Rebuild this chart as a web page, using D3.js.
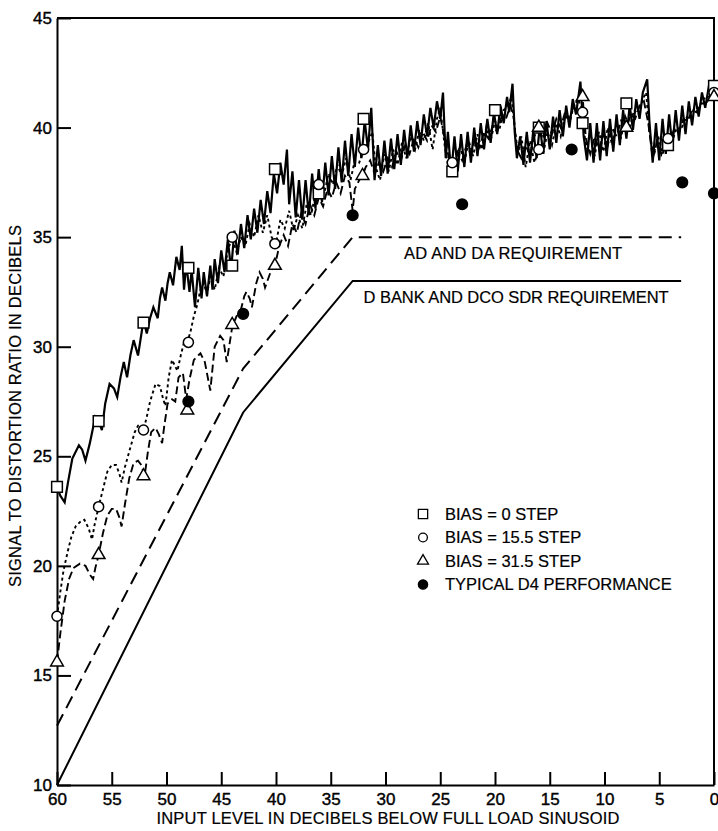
<!DOCTYPE html>
<html>
<head>
<meta charset="utf-8">
<script src="https://cdnjs.cloudflare.com/ajax/libs/d3/7.8.5/d3.min.js"></script>
<style>
  body { margin: 0; background: #fff; }
  svg { font-family: "Liberation Sans", Arial, sans-serif; }
  .axis path, .axis line { stroke: #000; stroke-width: 2; }
  .axis text { font-size: 17px; fill: #000; stroke: #000; stroke-width: 0.4; }
  .label { font-size: 16.5px; fill: #000; stroke: #000; stroke-width: 0.2; }
</style>
</head>
<body>
<svg id="svg1" width="718" height="831"></svg>
<script>
var svg = d3.select('#svg1');

// axis ticks
var xTicks = [60, 55, 50, 45, 40, 35, 30, 25, 20, 15, 10, 5, 0];
var yTicks = [10, 15, 20, 25, 30, 35, 40, 45];

// requirement lines [input level, SDR]
var adDaReq = [[60, 12.7], [43, 29.0], [33, 35.0], [3, 35.0]];
var dBankReq = [[60, 10.0], [43, 27.0], [33, 33.0], [3, 33.0]];

var bias0Curve = [
  [60,23.6],[59.7,23.2],[59.3,22.9],[59.0,23.8],[58.6,24.9],[58.0,25.5],[57.7,25.3],[57.4,24.8],[57.0,25.6],[56.5,26.8],
  [56.2,26.6],[55.9,26.2],[55.6,27.4],[55.2,28.3],[54.8,28.1],[54.5,27.7],[54.2,28.6],[53.9,29.3],[53.6,28.6],[53.3,29.6],
  [53.0,30.3],[52.6,29.6],[52.1,31.2],[51.8,30.6],[51.5,31.3],[51.2,31.8],[50.8,31.3],[50.6,32.2],[50.4,32.7],[50.1,32.1],
  [49.9,32.9],[49.7,33.4],[49.4,32.8],[49.1,34.1],[48.8,33.5],[48.6,34.6],
  [48.4,32.6],[48.2,33.8],[47.9,32.5],[47.7,33.5],[47.4,31.8],[47.1,33.6],[46.8,32.2],[46.6,33.4],[46.3,32.3],[46.0,33.7],
  [45.8,32.6],[45.6,34.0],[45.3,32.9],[45.0,34.4],[44.7,33.4],[44.4,34.9],[44.1,33.5],[43.8,35.3],[43.5,34.2],[43.2,35.6],
  [42.9,34.5],[42.6,36.0],[42.3,34.9],[42.0,36.3],[41.7,35.2],[41.4,36.7],[41.1,35.6],[40.8,37.1],[40.5,36.1],[40.2,37.9],
  [39.9,37.0],[39.6,38.4],[39.3,37.4],[39.0,39.0],[38.8,36.5],[38.5,38.0],[38.2,35.9],[37.9,37.6],[37.6,35.8],[37.3,37.6],
  [37.0,36.0],[36.7,37.9],[36.4,36.3],[36.1,38.1],[35.8,36.6],[35.5,38.4],[35.2,36.9],[34.9,38.7],[34.6,37.2],[34.3,39.1],
  [34.0,37.5],[33.7,39.4],[33.4,37.8],[33.1,39.7],[32.8,38.2],[32.5,40.0],[32.2,38.6],[31.9,40.3],[31.6,39.0],[31.3,40.9],
  [31.0,37.6],[30.7,39.2],[30.4,37.8],[30.1,39.4],[29.8,37.9],[29.5,39.5],[29.2,38.1],[28.9,39.7],[28.6,38.3],[28.3,39.9],
  [28.0,38.6],[27.7,40.1],[27.4,38.9],[27.1,40.3],[26.8,39.2],[26.5,40.6],[26.2,39.6],[25.9,40.9],[25.6,40.0],[25.3,41.2],
  [25.0,40.4],[24.75,41.6],
  [24.5,38.6],[24.3,39.8],[24.0,37.9],[23.7,39.6],[23.4,38.0],[23.1,39.7],[22.8,38.2],[22.5,39.8],[22.2,38.4],[21.9,40.0],
  [21.6,38.7],[21.3,40.2],[21.0,39.0],[20.7,40.4],[20.4,39.3],[20.1,40.7],[19.8,39.7],[19.5,41.0],[19.2,40.2],[18.9,41.4],
  [18.7,40.7],[18.4,42.0],
  [18.2,39.8],[18.0,38.6],[17.7,39.6],[17.4,38.3],[17.1,39.8],[16.8,38.4],[16.5,39.9],[16.2,38.6],[15.9,40.1],[15.6,38.8],
  [15.3,40.3],[15.0,39.0],[14.7,40.5],[14.4,39.3],[14.1,40.8],[13.8,39.6],[13.5,41.0],[13.2,40.0],[12.9,41.3],[12.6,40.6],
  [12.2,42.1],
  [11.9,39.6],[11.6,38.5],[11.3,40.2],[11.0,38.4],[10.7,40.2],[10.4,38.5],[10.1,40.3],[9.8,38.7],[9.5,40.4],[9.2,38.9],
  [8.9,40.6],[8.6,39.2],[8.3,40.8],[8.0,39.5],[7.7,41.0],[7.4,39.9],[7.1,41.3],[6.8,40.4],[6.5,41.6],[6.1,42.2],
  [5.9,40.3],[5.6,38.4],[5.3,40.2],[5.0,38.5],[4.7,40.4],[4.4,38.8],[4.1,40.6],[3.8,39.1],[3.5,40.8],[3.2,39.4],
  [2.9,41.0],[2.6,39.7],[2.3,41.2],[2.0,40.1],[1.7,41.4],[1.4,40.5],[1.1,41.6],[0.8,40.9],[0.5,41.8],[0.2,41.4],[0,42.0]
];

var bias15Curve = [
  [60,17.7],[59.7,18.8],[59.4,19.8],[59.0,20.7],[58.7,21.3],[58.3,21.8],[57.9,22.0],[57.5,22.1],[57.1,21.7],[56.8,21.2],
  [56.6,21.8],[56.2,22.7],[55.8,23.5],[55.4,24.3],[55.0,24.6],[54.6,24.6],[54.3,24.2],[54.1,23.8],[53.8,24.5],[53.3,25.4],
  [52.9,26.1],[52.6,26.4],[52.3,26.4],[52.1,26.2],[51.8,26.8],[51.5,27.5],[51.0,28.3],[50.6,28.2],[50.3,27.6],[50.1,27.3],
  [49.8,28.6],[49.5,29.4],[49.2,29.1],[49.0,28.9],[48.7,29.6],[48.4,30.2],[48.1,30.2],[47.8,30.7],[47.5,31.4],[47.2,31.9],
  [46.9,32.6],[46.6,32.9],[46.3,32.4],[46.0,33.2],[45.6,32.6],[45.2,33.6],[44.8,33.2],[44.4,34.4],[44.0,35.0],[43.6,34.3],
  [43.2,35.0],[42.8,34.6],[42.4,35.6],[42.0,35.0],[41.6,36.0],[41.2,35.2],[40.8,36.0],[40.4,35.0],[40.0,34.7],[39.6,35.8],
  [39.2,35.4],[38.8,36.2],[38.4,35.3],[38.0,36.0],[37.6,35.4],[37.2,36.5],[36.8,36.0],[36.4,37.0],[36.0,37.4],[35.6,37.0],
  [35.2,37.9],[34.8,37.4],[34.4,38.3],[34.0,37.8],[33.6,38.6],[33.2,37.6],[32.8,38.5],[32.4,38.4],[32.0,39.0],[31.6,39.3],
  [31.2,39.8],[30.9,38.2],[30.5,37.6],[30.1,38.8],[29.7,38.0],[29.3,39.0],[28.9,38.3],[28.5,39.3],[28.1,38.6],[27.7,39.6],
  [27.3,39.0],[26.9,39.9],[26.5,39.4],[26.1,40.2],[25.7,39.0],[25.3,40.4],[25.0,40.9],[24.6,39.2],[24.2,38.0],[24.0,38.4],
  [23.6,38.2],[23.2,39.2],[22.8,38.4],[22.4,39.4],[22.0,38.7],[21.6,39.7],[21.2,39.0],[20.8,40.0],[20.4,39.4],[20.0,40.3],
  [19.6,39.9],[19.2,40.8],[18.8,41.0],[18.5,41.4],[18.2,40.0],[17.9,38.8],[17.6,39.6],[17.2,38.2],[16.8,39.4],[16.4,38.4],
  [16.0,39.0],[15.6,38.8],[15.2,39.8],[14.8,39.2],[14.4,40.2],[14.0,39.6],[13.6,40.6],[13.2,40.2],[12.8,41.0],[12.4,41.3],
  [12.0,40.7],[11.7,39.0],[11.3,39.8],[10.9,38.7],[10.5,39.8],[10.1,38.9],[9.7,40.0],[9.3,39.2],[8.9,40.2],[8.5,39.5],
  [8.1,40.5],[7.7,40.0],[7.3,40.8],[6.9,40.6],[6.5,41.3],[6.2,41.6],[5.9,39.8],[5.5,38.7],[5.1,39.6],[4.7,38.8],
  [4.2,39.5],[3.8,39.4],[3.4,40.0],[3.0,39.9],[2.6,40.5],[2.2,40.4],[1.8,40.9],[1.4,40.9],[1.0,41.3],[0.5,41.4],[0,41.6]
];

var bias31Curve = [
  [60,15.6],[59.7,16.9],[59.3,18.4],[58.9,19.4],[58.5,19.9],[57.9,20.1],[57.4,20.0],[57.0,19.6],[56.7,19.4],[56.5,19.9],
  [56.2,20.5],[55.8,21.5],[55.4,22.3],[55.0,22.6],[54.6,22.6],[54.3,22.2],[54.1,21.8],[53.8,22.8],[53.4,24.0],[53.0,24.7],
  [52.6,24.8],[52.3,24.6],[52.0,24.1],[51.7,25.2],[51.4,26.1],[51.0,26.3],[50.7,26.0],[50.4,25.6],[50.2,26.4],[49.9,27.4],
  [49.5,27.6],[49.2,27.5],[48.9,28.6],[48.5,28.8],[48.2,27.6],[47.9,28.5],[47.5,29.4],[46.9,29.7],[46.5,29.3],[46.0,28.0],
  [45.6,30.0],[45.1,30.5],[44.8,30.3],[44.5,29.3],[44.0,30.9],[43.6,31.4],[43.3,31.5],[42.9,32.3],[42.7,32.5],[42.4,32.2],
  [42.2,31.8],[41.8,32.9],[41.5,33.4],[41.2,33.1],[41.0,32.7],[40.5,33.4],[40.1,33.7],[39.7,34.6],[39.3,35.1],[38.9,34.6],
  [38.5,35.6],[38.1,35.2],[37.7,36.1],[37.3,35.6],[36.9,36.5],[36.5,36.0],[36.1,36.8],[35.7,36.4],[35.3,37.2],[34.9,36.8],
  [34.5,37.5],[34.1,37.0],[33.7,37.8],[33.3,37.5],[33.0,36.2],[32.8,37.2],[32.4,37.6],[32.1,37.8],[31.8,38.2],[31.4,38.5],
  [31.0,37.9],[30.6,38.4],[30.2,38.0],[29.8,38.6],[29.4,38.2],[29.0,38.9],[28.6,38.5],[28.2,39.2],[27.8,38.8],[27.4,39.5],
  [27.0,39.1],[26.6,39.8],[26.2,39.4],[25.8,40.1],[25.4,39.8],[25.0,40.5],[24.6,39.5],[24.2,38.6],[23.8,38.3],[23.4,38.9],
  [23.0,38.5],[22.6,39.2],[22.2,38.8],[21.8,39.5],[21.4,39.1],[21.0,39.8],[20.6,39.5],[20.2,40.1],[19.8,39.8],[19.4,40.5],
  [19.0,40.4],[18.6,41.0],[18.3,40.5],[18.0,39.0],[17.6,38.6],[17.2,39.2],[16.8,38.7],[16.4,39.6],[16.0,40.0],[15.6,39.6],
  [15.2,40.2],[14.8,39.7],[14.4,40.4],[14.0,40.0],[13.6,40.7],[13.2,40.4],[12.8,41.0],[12.4,41.2],[12.0,41.4],[11.7,39.5],
  [11.3,38.8],[10.9,39.6],[10.5,39.0],[10.1,39.7],[9.7,39.2],[9.3,40.0],[8.9,39.6],[8.5,40.3],[8.0,40.0],[7.6,40.6],
  [7.2,40.4],[6.8,41.0],[6.4,41.2],[6.0,40.2],[5.6,38.6],[5.2,39.4],[4.8,38.8],[4.4,39.6],[4.0,39.4],[3.6,40.0],
  [3.2,39.8],[2.8,40.4],[2.4,40.3],[2.0,40.8],[1.6,40.7],[1.2,41.1],[0.8,41.1],[0.4,41.3],[0,41.4]
];

// measured points
var bias0Points = [[60,23.6],[56.2,26.6],[52.1,31.1],[48.0,33.6],[44.0,33.7],[40.1,38.1],[36.1,37.0],[32.0,40.4],
  [23.9,38.0],[20.0,40.8],[16.0,40.0],[12.0,40.2],[8.0,41.1],[4.2,39.2],[0,41.9]];
var bias15Points = [[60,17.7],[56.2,22.7],[52.1,26.2],[48.0,30.2],[44.0,35.0],[40.1,34.7],[36.1,37.4],[32.0,39.0],
  [23.9,38.4],[16.0,39.0],[12.0,40.7],[4.2,39.5],[0,41.6]];
var bias31Points = [[60,15.6],[56.2,20.5],[52.1,24.1],[48.1,27.1],[44.0,31.0],[40.1,33.7],[32.1,37.8],
  [16.0,40.0],[12.0,41.4],[8.0,40.0],[0,41.4]];
var d4Points = [[48.0,27.5],[43.0,31.5],[33.0,36.0],[23.0,36.5],[13.0,39.0],[2.9,37.5],[0,37.0]];

var legendLabels = ['BIAS = 0 STEP', 'BIAS = 15.5 STEP', 'BIAS = 31.5 STEP', 'TYPICAL D4 PERFORMANCE'];

var padding = {t: 18, r: 4, b: 46, l: 57};
var svgWidth = +svg.attr('width');
var svgHeight = +svg.attr('height');

var xScale = d3.scaleLinear().domain([60, 0]).range([padding.l, svgWidth - padding.r]);
var yScale = d3.scaleLinear().domain([10, 45]).range([svgHeight - padding.b, padding.t]);

var line = d3.line()
    .x(function(d) { return xScale(d[0]); })
    .y(function(d) { return yScale(d[1]); });

// frame (top and right)
svg.append('path')
    .attr('d', 'M' + [xScale(60), yScale(45)] + 'H' + xScale(0) + 'V' + yScale(10))
    .attr('fill', 'none')
    .attr('stroke', '#000')
    .attr('stroke-width', 2);

var xAxis = d3.axisBottom(xScale).tickValues(xTicks).tickSizeInner(-13).tickSizeOuter(0).tickPadding(5);
var yAxis = d3.axisLeft(yScale).tickValues(yTicks).tickSizeInner(-14).tickSizeOuter(0).tickPadding(5);

svg.append('g')
    .attr('class', 'axis')
    .attr('transform', 'translate(' + [0, yScale(10)] + ')')
    .call(xAxis)
    .selectAll('text').attr('dy', '0.9em');

svg.append('g')
    .attr('class', 'axis')
    .attr('transform', 'translate(' + [xScale(60), 0] + ')')
    .call(yAxis);

// axis titles
svg.append('text')
    .attr('class', 'label')
    .attr('x', 388)
    .attr('y', 824)
    .attr('text-anchor', 'middle')
    .attr('textLength', 463)
    .text('INPUT LEVEL IN DECIBELS BELOW FULL LOAD SINUSOID');

svg.append('text')
    .attr('class', 'label')
    .attr('transform', 'translate(' + [21, 406] + ') rotate(-90)')
    .attr('text-anchor', 'middle')
    .attr('textLength', 362)
    .text('SIGNAL TO DISTORTION RATIO IN DECIBELS');

// requirement lines
svg.append('path')
    .datum(adDaReq)
    .attr('d', line)
    .attr('fill', 'none')
    .attr('stroke', '#000')
    .attr('stroke-width', 2)
    .attr('stroke-dasharray', '13,7');

svg.append('path')
    .datum(dBankReq)
    .attr('d', line)
    .attr('fill', 'none')
    .attr('stroke', '#000')
    .attr('stroke-width', 2);

svg.append('text')
    .attr('class', 'label')
    .attr('x', xScale(28.3))
    .attr('y', yScale(34.0))
    .attr('textLength', 218)
    .text('AD AND DA REQUIREMENT');

svg.append('text')
    .attr('class', 'label')
    .attr('x', xScale(32))
    .attr('y', yScale(32.0))
    .attr('textLength', 305)
    .text('D BANK AND DCO SDR REQUIREMENT');

// measured curves
svg.append('path')
    .datum(bias31Curve)
    .attr('d', line)
    .attr('fill', 'none')
    .attr('stroke', '#000')
    .attr('stroke-width', 1.9)
    .attr('stroke-dasharray', '8,4');

svg.append('path')
    .datum(bias15Curve)
    .attr('d', line)
    .attr('fill', 'none')
    .attr('stroke', '#000')
    .attr('stroke-width', 1.9)
    .attr('stroke-dasharray', '3,3');

svg.append('path')
    .datum(bias0Curve)
    .attr('d', line)
    .attr('fill', 'none')
    .attr('stroke', '#000')
    .attr('stroke-width', 2.2)
    .attr('stroke-linejoin', 'miter');

// markers
var series = [
    {pts: bias0Points, sym: d3.symbolSquare, size: 115, fill: '#fff'},
    {pts: bias15Points, sym: d3.symbolCircle, size: 80, fill: '#fff'},
    {pts: bias31Points, sym: d3.symbolTriangle, size: 70, fill: '#fff'},
    {pts: d4Points, sym: d3.symbolCircle, size: 90, fill: '#000'}
];

series.forEach(function(s) {
    svg.append('g').selectAll('.marker')
        .data(s.pts)
        .enter()
        .append('path')
        .attr('class', 'marker')
        .attr('d', d3.symbol().type(s.sym).size(s.size))
        .attr('transform', function(d) {
            return 'translate(' + [xScale(d[0]), yScale(d[1])] + ')';
        })
        .attr('fill', s.fill)
        .attr('stroke', '#000')
        .attr('stroke-width', 1.5);
});

// legend
var legendText = [178, 201, 201, 223];
var legend = svg.append('g').attr('transform', 'translate(' + [423, 514] + ')');
legendLabels.forEach(function(lbl, i) {
    var s = series[i];
    legend.append('path')
        .attr('d', d3.symbol().type(s.sym).size(s.size * 0.75))
        .attr('transform', 'translate(' + [0, i * 23.5] + ')')
        .attr('fill', s.fill)
        .attr('stroke', '#000')
        .attr('stroke-width', 1.3);
    legend.append('text')
        .attr('class', 'label')
        .attr('x', 22)
        .attr('y', i * 23.5)
        .attr('dy', '0.36em')
        .text(lbl);
});
</script>
</body>
</html>
